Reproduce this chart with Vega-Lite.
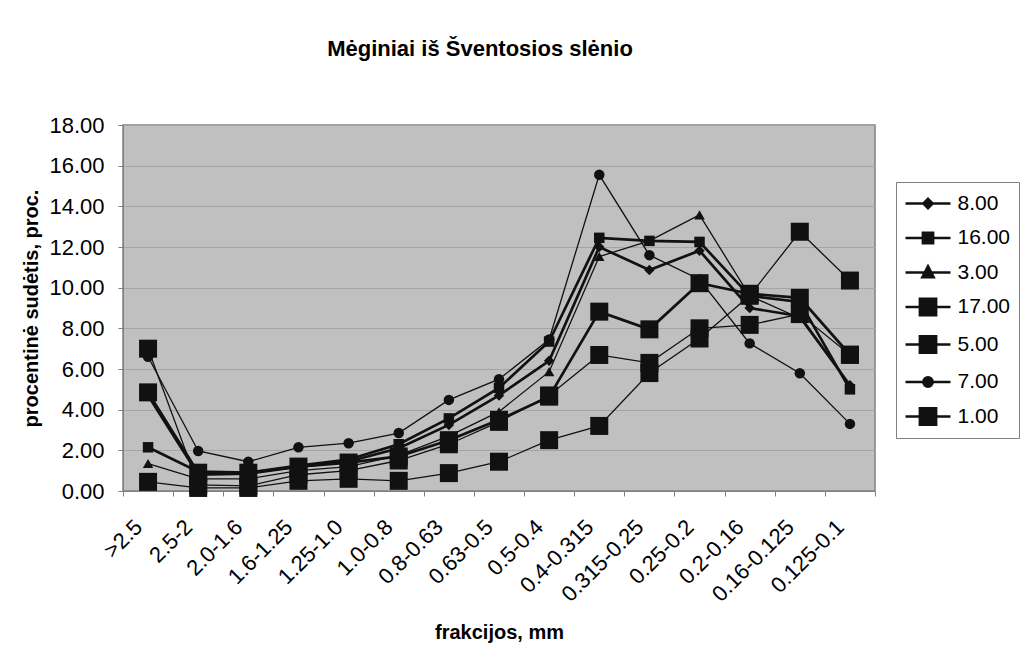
{
  "$schema": "https://vega.github.io/schema/vega-lite/v6.json",
  "width": 752,
  "height": 366,
  "autosize": {"type": "none"},
  "padding": {"left": 123, "top": 125, "right": 146, "bottom": 156},
  "background": "white",
  "title": {"text": "Mėginiai iš Šventosios slėnio", "font": "Liberation Sans", "fontSize": 22, "fontWeight": "bold", "color": "#000000", "anchor": "middle", "dx": -19, "offset": 53},
  "config": {
    "view": {"fill": "#c0c0c0", "stroke": "#808080", "strokeWidth": 1.5},
    "font": "Liberation Sans",
    "legend": {
      "title": null, "orient": "none", "legendX": 773, "legendY": 57, "padding": 8,
      "fillColor": "white", "strokeColor": "#808080",
      "symbolSize": 576, "rowPadding": 10.5, "symbolOffset": 10.5,
      "labelFont": "Liberation Sans", "labelFontSize": 21, "labelColor": "#000000", "labelOffset": 16,
      "symbolOpacity": 1
    }
  },
  "resolve": {"scale": {"shape": "independent", "strokeWidth": "independent"}},
  "data": {"values": [
    {"s":"8.00","f":">2.5","v":4.7},{"s":"8.00","f":"2.5-2","v":0.8},{"s":"8.00","f":"2.0-1.6","v":0.85},{"s":"8.00","f":"1.6-1.25","v":1.2},{"s":"8.00","f":"1.25-1.0","v":1.45},{"s":"8.00","f":"1.0-0.8","v":2.1},{"s":"8.00","f":"0.8-0.63","v":3.25},{"s":"8.00","f":"0.63-0.5","v":4.7},{"s":"8.00","f":"0.5-0.4","v":6.4},{"s":"8.00","f":"0.4-0.315","v":12.0},{"s":"8.00","f":"0.315-0.25","v":10.87},{"s":"8.00","f":"0.25-0.2","v":11.82},{"s":"8.00","f":"0.2-0.16","v":9.0},{"s":"8.00","f":"0.16-0.125","v":8.6},{"s":"8.00","f":"0.125-0.1","v":5.2},
    {"s":"16.00","f":">2.5","v":2.15},{"s":"16.00","f":"2.5-2","v":0.95},{"s":"16.00","f":"2.0-1.6","v":0.9},{"s":"16.00","f":"1.6-1.25","v":1.25},{"s":"16.00","f":"1.25-1.0","v":1.55},{"s":"16.00","f":"1.0-0.8","v":2.3},{"s":"16.00","f":"0.8-0.63","v":3.57},{"s":"16.00","f":"0.63-0.5","v":5.07},{"s":"16.00","f":"0.5-0.4","v":7.35},{"s":"16.00","f":"0.4-0.315","v":12.45},{"s":"16.00","f":"0.315-0.25","v":12.3},{"s":"16.00","f":"0.25-0.2","v":12.25},{"s":"16.00","f":"0.2-0.16","v":9.6},{"s":"16.00","f":"0.16-0.125","v":9.3},{"s":"16.00","f":"0.125-0.1","v":5.0},
    {"s":"3.00","f":">2.5","v":1.35},{"s":"3.00","f":"2.5-2","v":0.6},{"s":"3.00","f":"2.0-1.6","v":0.6},{"s":"3.00","f":"1.6-1.25","v":1.0},{"s":"3.00","f":"1.25-1.0","v":1.2},{"s":"3.00","f":"1.0-0.8","v":1.75},{"s":"3.00","f":"0.8-0.63","v":2.7},{"s":"3.00","f":"0.63-0.5","v":3.9},{"s":"3.00","f":"0.5-0.4","v":5.87},{"s":"3.00","f":"0.4-0.315","v":11.53},{"s":"3.00","f":"0.315-0.25","v":12.3},{"s":"3.00","f":"0.25-0.2","v":13.58},{"s":"3.00","f":"0.2-0.16","v":9.6},{"s":"3.00","f":"0.16-0.125","v":8.5},{"s":"3.00","f":"0.125-0.1","v":5.2},
    {"s":"17.00","f":">2.5","v":7.0},{"s":"17.00","f":"2.5-2","v":0.3},{"s":"17.00","f":"2.0-1.6","v":0.25},{"s":"17.00","f":"1.6-1.25","v":0.8},{"s":"17.00","f":"1.25-1.0","v":1.0},{"s":"17.00","f":"1.0-0.8","v":1.5},{"s":"17.00","f":"0.8-0.63","v":2.3},{"s":"17.00","f":"0.63-0.5","v":3.4},{"s":"17.00","f":"0.5-0.4","v":4.7},{"s":"17.00","f":"0.4-0.315","v":6.69},{"s":"17.00","f":"0.315-0.25","v":6.3},{"s":"17.00","f":"0.25-0.2","v":8.0},{"s":"17.00","f":"0.2-0.16","v":8.17},{"s":"17.00","f":"0.16-0.125","v":8.7},{"s":"17.00","f":"0.125-0.1","v":6.7},
    {"s":"5.00","f":">2.5","v":4.85},{"s":"5.00","f":"2.5-2","v":0.9},{"s":"5.00","f":"2.0-1.6","v":0.9},{"s":"5.00","f":"1.6-1.25","v":1.2},{"s":"5.00","f":"1.25-1.0","v":1.4},{"s":"5.00","f":"1.0-0.8","v":1.7},{"s":"5.00","f":"0.8-0.63","v":2.5},{"s":"5.00","f":"0.63-0.5","v":3.5},{"s":"5.00","f":"0.5-0.4","v":4.64},{"s":"5.00","f":"0.4-0.315","v":8.82},{"s":"5.00","f":"0.315-0.25","v":7.95},{"s":"5.00","f":"0.25-0.2","v":10.22},{"s":"5.00","f":"0.2-0.16","v":9.7},{"s":"5.00","f":"0.16-0.125","v":9.5},{"s":"5.00","f":"0.125-0.1","v":6.7},
    {"s":"7.00","f":">2.5","v":6.6},{"s":"7.00","f":"2.5-2","v":1.97},{"s":"7.00","f":"2.0-1.6","v":1.44},{"s":"7.00","f":"1.6-1.25","v":2.15},{"s":"7.00","f":"1.25-1.0","v":2.35},{"s":"7.00","f":"1.0-0.8","v":2.85},{"s":"7.00","f":"0.8-0.63","v":4.48},{"s":"7.00","f":"0.63-0.5","v":5.5},{"s":"7.00","f":"0.5-0.4","v":7.45},{"s":"7.00","f":"0.4-0.315","v":15.55},{"s":"7.00","f":"0.315-0.25","v":11.6},{"s":"7.00","f":"0.25-0.2","v":10.4},{"s":"7.00","f":"0.2-0.16","v":7.26},{"s":"7.00","f":"0.16-0.125","v":5.79},{"s":"7.00","f":"0.125-0.1","v":3.3},
    {"s":"1.00","f":">2.5","v":0.45},{"s":"1.00","f":"2.5-2","v":0.15},{"s":"1.00","f":"2.0-1.6","v":0.15},{"s":"1.00","f":"1.6-1.25","v":0.5},{"s":"1.00","f":"1.25-1.0","v":0.6},{"s":"1.00","f":"1.0-0.8","v":0.5},{"s":"1.00","f":"0.8-0.63","v":0.88},{"s":"1.00","f":"0.63-0.5","v":1.44},{"s":"1.00","f":"0.5-0.4","v":2.5},{"s":"1.00","f":"0.4-0.315","v":3.2},{"s":"1.00","f":"0.315-0.25","v":5.8},{"s":"1.00","f":"0.25-0.2","v":7.5},{"s":"1.00","f":"0.2-0.16","v":9.6},{"s":"1.00","f":"0.16-0.125","v":12.75},{"s":"1.00","f":"0.125-0.1","v":10.35}
  ]},
  "encoding": {
    "x": {
      "field": "f", "type": "nominal",
      "sort": [">2.5","2.5-2","2.0-1.6","1.6-1.25","1.25-1.0","1.0-0.8","0.8-0.63","0.63-0.5","0.5-0.4","0.4-0.315","0.315-0.25","0.25-0.2","0.2-0.16","0.16-0.125","0.125-0.1"],
      "scale": {"type": "band", "paddingInner": 0, "paddingOuter": 0},
      "axis": {
        "title": "frakcijos, mm", "titleFont": "Liberation Sans", "titleFontSize": 20, "titleFontWeight": "bold", "titleColor": "#000000",
        "titleY": 141, "titleBaseline": "middle",
        "labelAngle": -45, "labelFont": "Liberation Sans", "labelFontSize": 22, "labelColor": "#000000", "labelPadding": 20, "labelOffset": -17,
        "tickBand": "extent", "tickColor": "#808080", "tickSize": 5, "domainColor": "#808080", "grid": false
      }
    },
    "y": {
      "field": "v", "type": "quantitative",
      "scale": {"domain": [0, 18], "nice": false},
      "axis": {
        "title": "procentinė sudėtis, proc.", "titleFont": "Liberation Sans", "titleFontSize": 20, "titleFontWeight": "bold", "titleColor": "#000000",
        "titleX": -92, "titleY": 183, "titleBaseline": "middle", "titleAlign": "center",
        "values": [0, 2, 4, 6, 8, 10, 12, 14, 16, 18], "format": ".2f",
        "labelFont": "Liberation Sans", "labelFontSize": 22, "labelColor": "#000000", "labelPadding": 14,
        "tickColor": "#808080", "tickSize": 5, "domainColor": "#808080", "gridColor": "#a4a4a4", "gridWidth": 1
      }
    }
  },
  "layer": [
    {
      "transform": [{"filter": {"field": "s", "oneOf": ["3.00", "17.00", "7.00", "1.00"]}}],
      "mark": {"type": "line", "color": "#111111", "strokeWidth": 1.3},
      "encoding": {"detail": {"field": "s"}, "order": {"value": null}}
    },
    {
      "transform": [{"filter": {"field": "s", "oneOf": ["8.00", "16.00", "5.00"]}}],
      "mark": {"type": "line", "color": "#111111", "strokeWidth": 2.7},
      "encoding": {"detail": {"field": "s"}, "order": {"value": null}}
    },
    {
      "transform": [{"filter": {"field": "s", "oneOf": ["8.00", "16.00", "3.00", "7.00"]}}],
      "mark": {"type": "point", "filled": true, "color": "#111111", "opacity": 1, "size": 110},
      "encoding": {
        "shape": {
          "field": "s", "type": "nominal",
          "scale": {"domain": ["8.00","16.00","3.00","7.00"], "range": ["diamond","square","triangle-up","circle"]},
          "legend": null
        }
      }
    },
    {
      "transform": [{"filter": {"field": "s", "oneOf": ["17.00", "5.00", "1.00"]}}],
      "mark": {"type": "point", "filled": true, "color": "#111111", "opacity": 1, "size": 324, "shape": "square"},
      "encoding": {}
    },
    {
      "mark": {"type": "point", "filled": false, "fill": "#111111", "stroke": "#111111", "opacity": 0},
      "encoding": {
        "shape": {
          "field": "s", "type": "nominal",
          "scale": {
            "domain": ["8.00","16.00","3.00","17.00","5.00","7.00","1.00"],
            "range": [
              "M-1.875,0H1.875M0,-0.38L0.38,0L0,0.38L-0.38,0Z",
              "M-1.875,0H1.875M-0.42,-0.42H0.42V0.42H-0.42Z",
              "M-1.875,0H1.875M0,-0.5L0.46,0.38H-0.46Z",
              "M-1.875,0H1.875M-0.67,-0.67H0.67V0.67H-0.67Z",
              "M-1.875,0H1.875M-0.67,-0.67H0.67V0.67H-0.67Z",
              "M-1.875,0H1.875M0.38,0A0.38,0.38 0 1,1 -0.38,0A0.38,0.38 0 1,1 0.38,0Z",
              "M-1.875,0H1.875M-0.67,-0.67H0.67V0.67H-0.67Z"
            ]
          }
        },
        "strokeWidth": {
          "field": "s", "type": "ordinal",
          "scale": {"domain": ["8.00","16.00","3.00","17.00","5.00","7.00","1.00"], "range": [2.7, 2.7, 1.5, 1.5, 2.7, 1.5, 1.5]}
        }
      }
    }
  ]
}
